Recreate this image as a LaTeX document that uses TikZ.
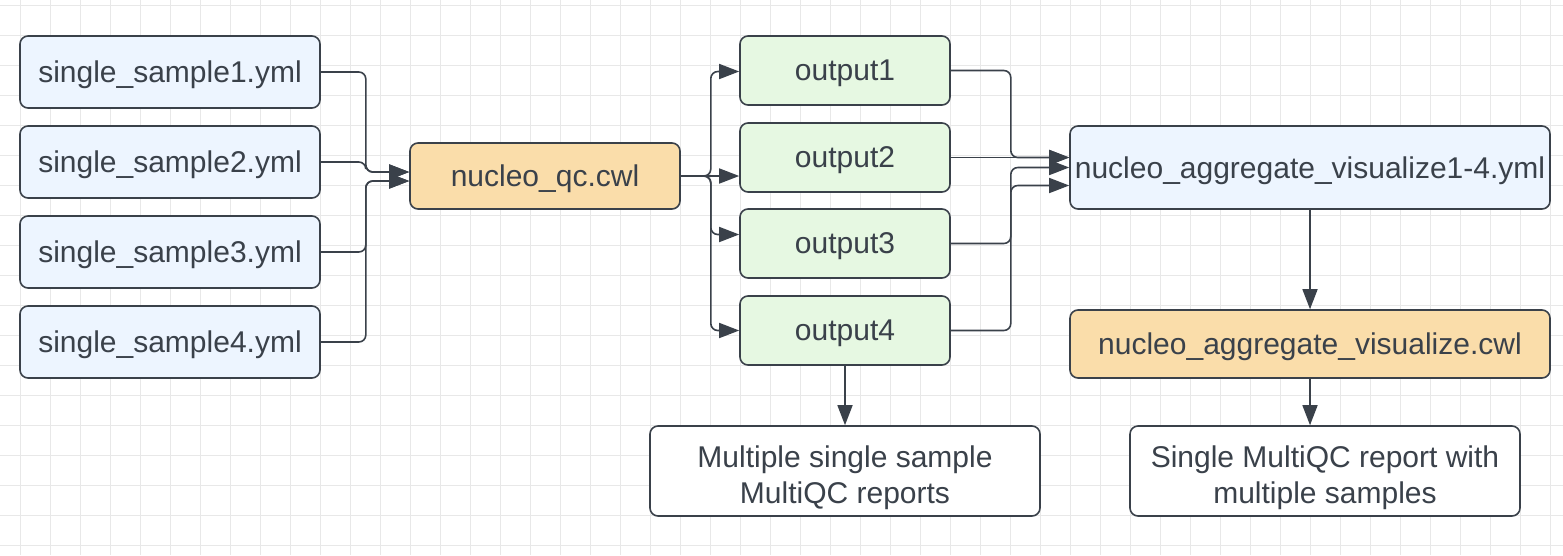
\documentclass[tikz,border=0pt]{standalone}
\usepackage{fontspec}
\setmainfont{Liberation Sans}
\usetikzlibrary{arrows.meta,calc}
\definecolor{ink}{HTML}{3A414A}
\definecolor{bluef}{HTML}{EDF5FF}
\definecolor{greenf}{HTML}{E6F8E2}
\definecolor{orangef}{HTML}{FADDAA}
\definecolor{gridc}{HTML}{E8E8E8}
\begin{document}
\begin{tikzpicture}[x=1pt,y=-1pt,
  box/.style={draw=ink,line width=1.6pt,rounded corners=8pt,text=ink,
    font=\fontsize{30}{36}\selectfont,align=center,inner sep=0pt,text depth=0pt},
  bbox/.style={box,fill=bluef},
  gbox/.style={box,fill=greenf},
  obox/.style={box,fill=orangef},
  wbox/.style={box,fill=white},
  txt/.style={text=ink,font=\fontsize{30}{36}\selectfont,align=center,inner sep=0pt},
  conn/.style={draw=ink,line width=1.6pt,rounded corners=7pt,
    -{Triangle[length=20pt,width=15pt]}}]
\useasboundingbox (0,0) rectangle (1563,555);
\fill[white] (0,0) rectangle (1563,555);
\foreach \x in {20,50,...,1560} \draw[gridc,line width=0.8pt] (\x,0) -- (\x,555);
\foreach \y in {5,35,...,550} \draw[gridc,line width=0.8pt] (0,\y) -- (1563,\y);
% inputs
\node[bbox,minimum width=300pt,minimum height=72pt] (s1) at (170,72) {single\_sample1.yml};
\node[bbox,minimum width=300pt,minimum height=72pt] (s2) at (170,162) {single\_sample2.yml};
\node[bbox,minimum width=300pt,minimum height=72pt] (s3) at (170,252) {single\_sample3.yml};
\node[bbox,minimum width=300pt,minimum height=72pt] (s4) at (170,342) {single\_sample4.yml};
\node[obox,minimum width=270pt,minimum height=66pt] (qc) at (545,176) {nucleo\_qc.cwl};
% outputs
\node[gbox,minimum width=210pt,minimum height=69pt] (o1) at (845,70.5) {output1};
\node[gbox,minimum width=210pt,minimum height=69pt] (o2) at (845,157.5) {output2};
\node[gbox,minimum width=210pt,minimum height=69pt] (o3) at (845,243.5) {output3};
\node[gbox,minimum width=210pt,minimum height=69pt] (o4) at (845,330.5) {output4};
\node[bbox,minimum width=480pt,minimum height=83pt] (ay) at (1310,167.5) {nucleo\_aggregate\_visualize1-4.yml};
\node[obox,minimum width=480pt,minimum height=68pt] (ac) at (1310,344) {nucleo\_aggregate\_visualize.cwl};
\node[wbox,minimum width=390pt,minimum height=90pt] (mr) at (845,471) {};
\node[txt] (mrt) at (845,478) {Multiple single sample\\MultiQC reports};
\node[wbox,minimum width=390pt,minimum height=90pt] (sr) at (1325,471) {};
\node[txt] (srt) at (1325,478) {Single MultiQC report with\\multiple samples};
% connectors into qc
\draw[conn] (s1.east) -- ++(45,0) |- ([yshift=4pt]qc.west);
\draw[conn] (s2.east) -- ++(45,0) |- ([yshift=4pt]qc.west);
\draw[conn] (s3.east) -- ++(45,0) |- ([yshift=-5pt]qc.west);
\draw[conn] (s4.east) -- ++(45,0) |- ([yshift=-5pt]qc.west);
% qc to outputs
\draw[conn] (qc.east) -- ++(30,0) |- ([yshift=-1pt]o1.west);
\draw[conn] (qc.east) -- (o2.west |- qc.east);
\draw[conn] (qc.east) -- ++(30,0) |- ([yshift=9pt]o3.west);
\draw[conn] (qc.east) -- ++(30,0) |- (o4.west);
% outputs to aggregate
\draw[conn] (o1.east) -- ++(60,0) |- (ay.west |- o2.east);
\draw[conn] (o2.east) -- (ay.west |- o2.east);
\draw[conn] (o3.east) -- ++(60,0) |- (ay.west);
\draw[conn] (o4.east) -- ++(60,0) |- ([yshift=-18pt]ay.west);
% vertical
\draw[conn] (o4.south) -- (mr.north);
\draw[conn] (ay.south) -- (ac.north);
\draw[conn] (ac.south) -- (ac.south |- sr.north);
\end{tikzpicture}
\end{document}
